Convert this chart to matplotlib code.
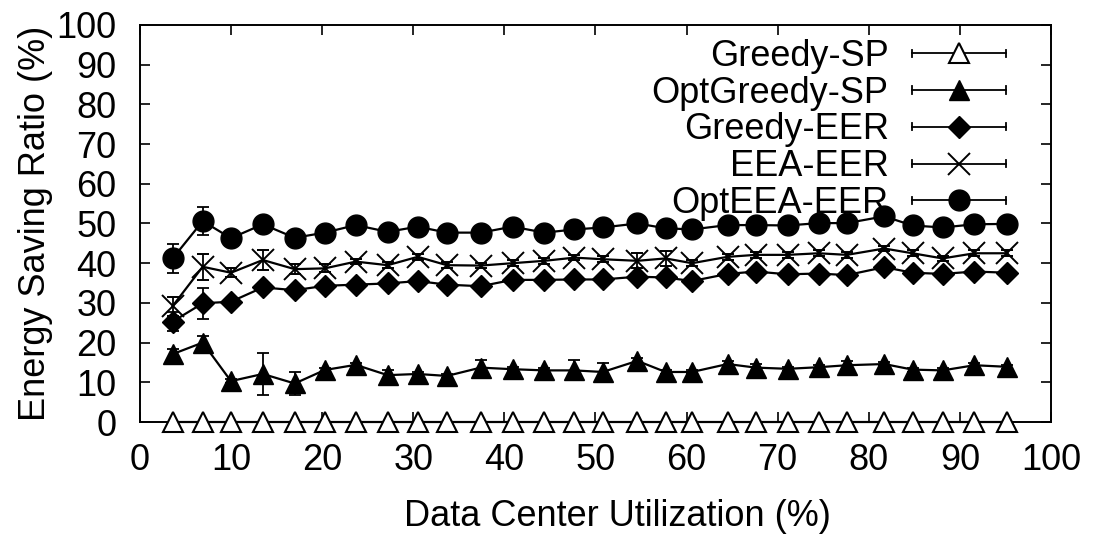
import matplotlib
matplotlib.use('Agg')
import matplotlib.pyplot as plt
from matplotlib.lines import Line2D
from matplotlib.legend_handler import HandlerLine2D

# Data center utilization (%) - x positions of measurements
utilization = [3.6, 6.9, 10.0, 13.5, 17.0, 20.3, 23.7, 27.2, 30.5, 33.7,
               37.4, 40.9, 44.4, 47.7, 50.8, 54.6, 57.7, 60.6, 64.5, 67.6,
               71.1, 74.5, 77.6, 81.7, 84.8, 88.1, 91.6, 95.2]

# Energy saving ratio (%) for each algorithm
greedy_sp = [0.0] * 28

opt_greedy_sp = [17.1, 20.0, 10.3, 12.1, 9.7, 13.1, 14.4, 11.8, 12.1, 11.6,
                 13.7, 13.3, 13.0, 13.0, 12.6, 15.4, 12.6, 12.6, 14.6, 13.7,
                 13.4, 13.8, 14.3, 14.6, 13.2, 13.0, 14.3, 13.9]
opt_greedy_sp_err = [1.3, 1.6, 0.5, 5.2, 2.9, 0.5, 0.5, 1.3, 0.5, 0.5,
                     1.9, 0.5, 0.5, 2.5, 2.3, 0.8, 0.5, 0.5, 0.8, 1.0,
                     0.5, 0.5, 1.0, 0.5, 0.5, 0.5, 0.5, 0.5]

greedy_eer = [25.3, 29.9, 30.3, 33.9, 33.2, 34.3, 34.6, 34.9, 35.5, 34.6,
              34.2, 35.8, 35.8, 35.9, 35.9, 36.6, 36.4, 35.5, 37.3, 37.9,
              37.2, 37.4, 37.0, 39.0, 37.6, 37.3, 37.9, 37.6]
greedy_eer_err = [2.5, 3.9, 0.5, 0.8, 0.5, 0.5, 0.5, 0.5, 0.5, 0.5,
                  0.5, 0.5, 0.5, 0.5, 0.5, 0.5, 0.5, 0.5, 0.5, 0.5,
                  0.5, 0.5, 0.5, 0.5, 0.5, 0.5, 0.5, 0.5]

eea_eer = [29.2, 39.1, 37.6, 40.8, 38.5, 38.7, 40.4, 39.5, 41.6, 39.5,
           39.4, 40.0, 40.6, 41.4, 41.0, 40.6, 41.2, 40.0, 41.6, 42.1,
           42.1, 42.5, 42.1, 43.7, 42.5, 41.2, 42.5, 42.5]
eea_eer_err = [2.4, 3.3, 1.2, 2.4, 1.2, 1.0, 0.7, 0.7, 0.7, 0.7,
               0.7, 0.7, 0.7, 0.7, 0.7, 1.9, 1.8, 0.7, 0.7, 0.7,
               0.7, 0.7, 0.7, 0.7, 0.7, 0.7, 0.7, 0.7]

opt_eea_eer = [41.2, 50.6, 46.3, 49.8, 46.4, 47.7, 49.6, 47.9, 49.2, 47.7,
               47.7, 49.2, 47.7, 48.5, 49.0, 50.0, 48.8, 48.5, 49.6, 49.6,
               49.5, 50.1, 50.1, 51.8, 49.5, 49.0, 49.8, 49.9]
opt_eea_eer_err = [3.6, 3.6, 0.8, 0.8, 0.8, 0.8, 0.8, 0.8, 0.8, 0.8,
                   0.8, 0.8, 0.8, 0.8, 0.8, 0.8, 0.8, 0.8, 0.8, 0.8,
                   0.8, 0.8, 0.8, 0.8, 0.8, 0.8, 0.8, 0.8]

labels = ['Greedy-SP', 'OptGreedy-SP', 'Greedy-EER', 'EEA-EER', 'OptEEA-EER']

plt.rcParams['font.family'] = ['Liberation Sans', 'DejaVu Sans']
plt.rcParams['font.size'] = 26


# gnuplot-like key entry: line with error bar caps at both ends
class CapHandler(HandlerLine2D):
    def create_artists(self, legend, orig_handle, xdescent, ydescent,
                       width, height, fontsize, trans):
        artists = super().create_artists(legend, orig_handle, xdescent, ydescent,
                                         width, height, fontsize, trans)
        y = (height - ydescent) / 2
        h = 0.1 * fontsize
        for x in (-xdescent, width - xdescent):
            cap = Line2D([x, x], [y - h, y + h], color='black', lw=1.3)
            cap.set_transform(trans)
            artists.append(cap)
        return artists


fig = plt.figure(figsize=(11.01, 5.35), dpi=100)
ax = fig.add_axes([0.127, 0.2112, 0.8276, 0.7421])

common = dict(color='black', lw=1.6, ecolor='black', elinewidth=1.3,
              capsize=4, capthick=1.3)

ax.errorbar(utilization, opt_eea_eer, yerr=opt_eea_eer_err, marker='o', ms=15,
            mfc='black', mec='black', **common)
ax.errorbar(utilization, eea_eer, yerr=eea_eer_err, marker='x', ms=16, mew=1.4,
            mfc='black', mec='black', **common)
ax.errorbar(utilization, greedy_eer, yerr=greedy_eer_err, marker='D', ms=11.5,
            mfc='black', mec='black', **common)
ax.errorbar(utilization, opt_greedy_sp, yerr=opt_greedy_sp_err, marker='^', ms=14.5,
            mfc='black', mec='black', **common)
ax.errorbar(utilization, greedy_sp, marker='^', ms=14.5, mfc='white', mec='black',
            mew=1.5, clip_on=False, zorder=5, **common)

ax.set_xlim(0, 100)
ax.set_ylim(0, 100)
ax.set_xticks(range(0, 101, 10))
ax.set_yticks(range(0, 101, 10))
ax.tick_params(direction='in', length=7, width=1.2, top=True, right=True)
ax.tick_params(axis='x', pad=15)
ax.tick_params(axis='y', pad=17)
for s in ax.spines.values():
    s.set_linewidth(1.4)

ax.set_xlabel('Data Center Utilization (%)')
ax.xaxis.set_label_coords(0.524, -0.195)
ax.set_ylabel('Energy Saving Ratio (%)', labelpad=2)

# legend handles
handles = [
    Line2D([], [], color='black', lw=1.3, marker='^', ms=14.5, mfc='white', mec='black', mew=1.5),
    Line2D([], [], color='black', lw=1.3, marker='^', ms=14.5, mfc='black', mec='black'),
    Line2D([], [], color='black', lw=1.3, marker='D', ms=11.5, mfc='black', mec='black'),
    Line2D([], [], color='black', lw=1.3, marker='x', ms=16, mew=1.4, mec='black'),
    Line2D([], [], color='black', lw=1.3, marker='o', ms=15, mfc='black', mec='black'),
]
ax.legend(handles, labels, loc='upper right', bbox_to_anchor=(0.9506, 0.965),
          frameon=False, markerfirst=False, handlelength=2.6, handletextpad=0.65,
          labelspacing=0.05, borderpad=0, borderaxespad=0, numpoints=1,
          handler_map={Line2D: CapHandler()})

plt.savefig('out.png', dpi=100)
